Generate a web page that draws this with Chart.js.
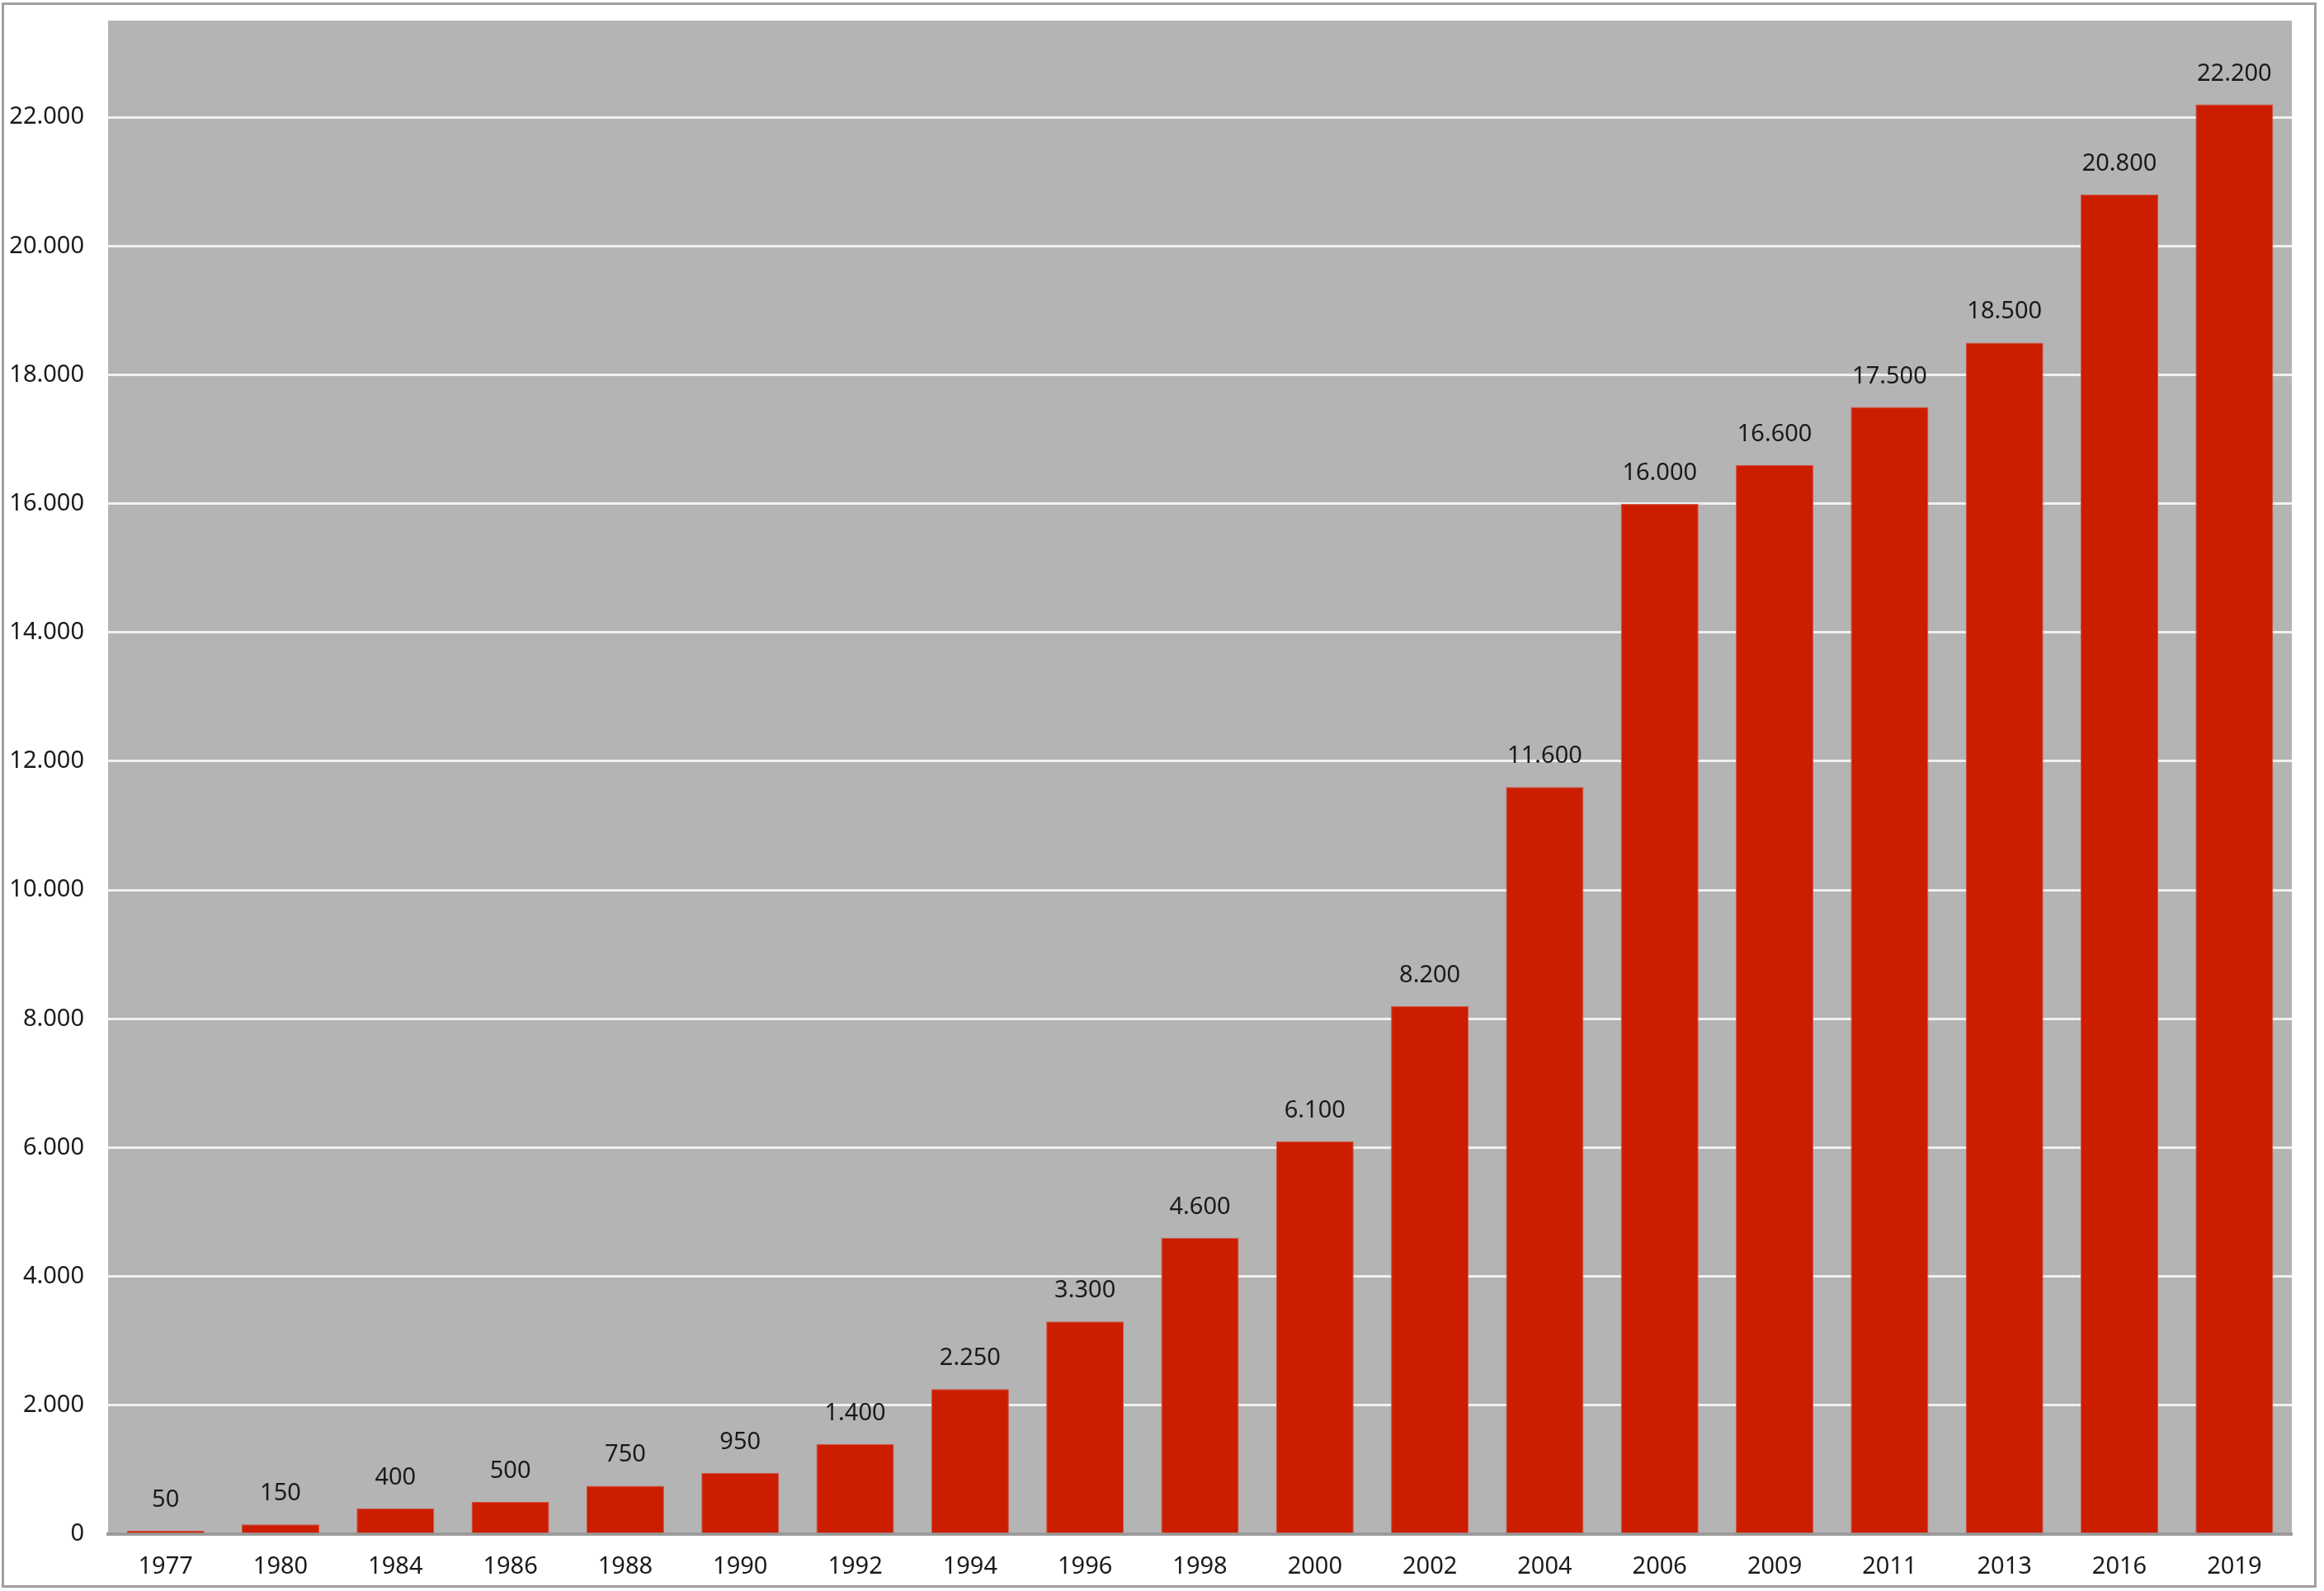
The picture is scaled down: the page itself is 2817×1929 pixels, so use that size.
<!DOCTYPE html>
<html lang="de">
<head>
    <meta charset="UTF-8">
    <title>Balkendiagramm 1977-2019</title>
    <style>
        body {
            margin: 0;
            background: #ffffff;
            overflow: hidden;
        }
        #chart {
            display: block;
        }
    </style>
    <script src="https://cdn.jsdelivr.net/npm/chart.js"></script>
</head>
<body>
    <canvas id="chart" width="2817" height="1929"></canvas>

    <script>
        // Data
        const years = ['1977', '1980', '1984', '1986', '1988', '1990', '1992', '1994', '1996', '1998',
                       '2000', '2002', '2004', '2006', '2009', '2011', '2013', '2016', '2019'];
        const values = [50, 150, 400, 500, 750, 950, 1400, 2250, 3300, 4600,
                        6100, 8200, 11600, 16000, 16600, 17500, 18500, 20800, 22200];
        const yTicks = [0, 2000, 4000, 6000, 8000, 10000, 12000, 14000, 16000, 18000, 20000, 22000];
        const yMax = 23500;

        const FONT = '"Noto Sans", "Open Sans", sans-serif';

        // German thousands separator
        function fmt(v) {
            return String(v).replace(/\B(?=(\d{3})+(?!\d))/g, '.');
        }

        // Grey plot background and outer frame
        const backdrop = {
            id: 'backdrop',
            beforeDraw(chart) {
                const { ctx, chartArea: a } = chart;
                ctx.save();
                ctx.fillStyle = '#b4b4b4';
                ctx.fillRect(a.left, a.top, a.right - a.left, a.bottom - a.top);
                ctx.strokeStyle = '#a0a0a0';
                ctx.lineWidth = 3;
                ctx.strokeRect(3.5, 4.5, 2803, 1919);
                ctx.restore();
            }
        };

        // Value labels above bars
        const valueLabels = {
            id: 'valueLabels',
            afterDatasetsDraw(chart) {
                const { ctx } = chart;
                const meta = chart.getDatasetMeta(0);
                ctx.save();
                ctx.font = '29px ' + FONT;
                ctx.fillStyle = '#1a1a1a';
                ctx.textAlign = 'center';
                ctx.textBaseline = 'alphabetic';
                meta.data.forEach((bar, i) => {
                    ctx.fillText(fmt(values[i]), bar.x, bar.y - 29);
                });
                ctx.restore();
            }
        };

        new Chart(document.getElementById('chart'), {
            type: 'bar',
            data: {
                labels: years,
                datasets: [{
                    data: values,
                    backgroundColor: '#cd1d00',
                    borderColor: '#d4503f',
                    borderWidth: 1,
                    categoryPercentage: 1.0,
                    barPercentage: 0.675
                }]
            },
            options: {
                responsive: false,
                devicePixelRatio: 1,
                animation: false,
                layout: { padding: { left: 0, right: 39, top: 25, bottom: 0 } },
                plugins: {
                    legend: { display: false },
                    tooltip: { enabled: false }
                },
                scales: {
                    x: {
                        grid: { display: false, drawTicks: false },
                        border: { display: true, color: '#9a9a9a', width: 4 },
                        ticks: {
                            color: '#1a1a1a',
                            padding: 22,
                            font: { family: FONT, size: 29 },
                            maxRotation: 0,
                            autoSkip: false
                        },
                        afterFit(scale) {
                            scale.height = 69;
                            scale.paddingLeft = 0;
                            scale.paddingRight = 0;
                        }
                    },
                    y: {
                        min: 0,
                        max: yMax,
                        grid: { color: '#f0f0f0', lineWidth: 3, drawTicks: false },
                        border: { display: false },
                        ticks: {
                            color: '#1a1a1a',
                            padding: 29,
                            font: { family: FONT, size: 29 },
                            callback: (v) => fmt(v)
                        },
                        afterBuildTicks(scale) {
                            scale.ticks = yTicks.map(v => ({ value: v }));
                        },
                        afterFit(scale) {
                            scale.width = 131;
                            scale.paddingTop = 0;
                            scale.paddingBottom = 0;
                        }
                    }
                }
            },
            plugins: [backdrop, valueLabels]
        });
    </script>
</body>
</html>
